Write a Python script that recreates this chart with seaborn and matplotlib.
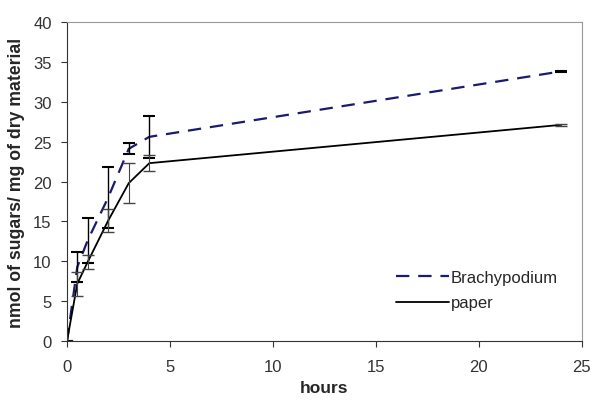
import matplotlib
matplotlib.use("Agg")
import matplotlib.pyplot as plt
import seaborn as sns
import pandas as pd

# data
hours = [0, 0.5, 1, 2, 3, 4, 24]
brachy = [0, 9.3, 12.6, 18.0, 24.1, 25.6, 33.8]
brachy_err = [0, 1.9, 2.8, 3.8, 0.7, 2.6, 0.1]
paper = [0, 7.2, 9.9, 15.1, 19.8, 22.3, 27.1]
paper_err = [0, 1.5, 0.9, 1.4, 2.5, 1.0, 0.1]

df = pd.DataFrame({"hours": hours, "Brachypodium": brachy, "paper": paper})

sns.set_style("ticks")
plt.rcParams["font.family"] = ["Liberation Sans", "DejaVu Sans"]

fig = plt.figure(figsize=(5.93, 4.02), dpi=100)
ax = fig.add_axes([0.113, 0.149, 0.868, 0.794])

sns.lineplot(data=df, x="hours", y="Brachypodium", ax=ax, color="#1a1a6e",
             linewidth=1.6, label="Brachypodium")
ax.lines[-1].set_dashes([6, 4])
sns.lineplot(data=df, x="hours", y="paper", ax=ax, color="black",
             linewidth=1.3, label="paper")

ax.errorbar(hours, brachy, yerr=brachy_err, fmt="none", ecolor="black",
            elinewidth=1.0, capsize=4, capthick=1.5)
ax.errorbar(hours, paper, yerr=paper_err, fmt="none", ecolor="#444444",
            elinewidth=0.8, capsize=4)

ax.set_xlim(0, 25)
ax.set_ylim(0, 40)
ax.set_xticks(range(0, 26, 5))
ax.set_yticks(range(0, 41, 5))
ax.tick_params(labelsize=12, length=4, direction="out", labelcolor="#333333",
               color="#333333")
ax.tick_params(axis="x", pad=9)
ax.tick_params(axis="y", pad=7)
ax.set_xlabel("hours", fontsize=12.5, fontweight="bold", labelpad=4)
ax.set_ylabel("nmol of sugars/ mg of dry material", fontsize=12.7,
              fontweight="bold", labelpad=6)

for s in ["top", "right"]:
    ax.spines[s].set_visible(True)
    ax.spines[s].set_color("#999999")
for s in ["left", "bottom"]:
    ax.spines[s].set_color("#333333")

ax.legend(loc="center left", bbox_to_anchor=(0.623, 0.16), frameon=False,
          fontsize=12, handlelength=3.2, handletextpad=0.1, borderpad=0,
          labelspacing=0.65)

fig.savefig("out.png", dpi=100)
